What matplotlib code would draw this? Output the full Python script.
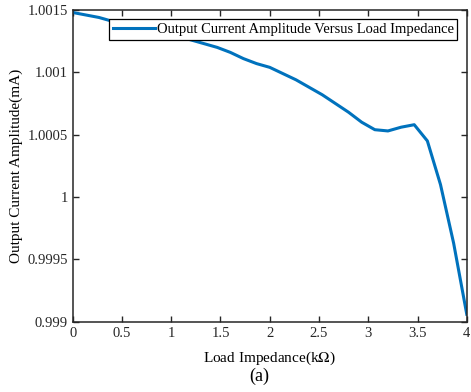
import matplotlib
matplotlib.use('Agg')
import matplotlib.pyplot as plt
from matplotlib.ticker import FuncFormatter

plt.rcParams['font.family'] = 'Liberation Serif'
plt.rcParams['mathtext.fontset'] = 'stix'

# load impedance (kOhm), sampled every 4/30
load_k = [0.0, 0.1333, 0.2667, 0.4, 0.5333, 0.6667, 0.8, 0.9333, 1.0667, 1.2,
          1.3333, 1.4667, 1.6, 1.7333, 1.8667, 2.0, 2.1333, 2.2667, 2.4, 2.5333,
          2.6667, 2.8, 2.9333, 3.0667, 3.2, 3.3333, 3.4667, 3.6, 3.7333, 3.8667, 4.0]
current_ma = [1.00148, 1.00146, 1.00144, 1.00141, 1.00139, 1.00137, 1.00134, 1.00132,
              1.00129, 1.00126, 1.00123, 1.00120, 1.00116, 1.00111, 1.00107, 1.00104,
              1.00099, 1.00094, 1.00088, 1.00082, 1.00075, 1.00068, 1.00060, 1.00054,
              1.00053, 1.00056, 1.00058, 1.00045, 1.00010, 0.99963, 0.99906]

xticks = [0, 0.5, 1, 1.5, 2, 2.5, 3, 3.5, 4]
yticks = [0.999, 0.9995, 1.0, 1.0005, 1.001, 1.0015]

fig = plt.figure(figsize=(4.71, 3.92), dpi=100)
ax = fig.add_axes([0.1544, 0.1793, 0.8366, 0.7952])
ax.plot(load_k, current_ma, color='#0072BD', linewidth=2.2,
        label='Output Current Amplitude Versus Load Impedance')
ax.set_xlim(0, 4)
ax.set_ylim(0.999, 1.0015)
ax.set_xticks(xticks)
ax.set_yticks(yticks)
ax.xaxis.set_major_formatter(FuncFormatter(lambda v, p: '%g' % round(v, 6)))
ax.yaxis.set_major_formatter(FuncFormatter(lambda v, p: '%g' % round(v, 6)))
ax.tick_params(direction='in', top=True, right=True, length=4, width=1,
               labelsize=10.5, colors='#262626')
for s in ax.spines.values():
    s.set_linewidth(1.1)
    s.set_color('#262626')
ax.set_xlabel('Load Impedance(k$\\Omega$)', fontsize=11, labelpad=7)
ax.set_ylabel('Output Current Amplitude(mA)', fontsize=11, labelpad=3)
leg = ax.legend(loc='upper right', fontsize=10.5, fancybox=False, framealpha=1,
                edgecolor='black', borderpad=0.25, handlelength=2.9,
                handletextpad=0.1, borderaxespad=0.65)
leg.get_frame().set_linewidth(0.9)
fig.text(0.55, 0.018, '(a)', ha='center', va='bottom', fontsize=13)

plt.savefig('out.png', dpi=100)
